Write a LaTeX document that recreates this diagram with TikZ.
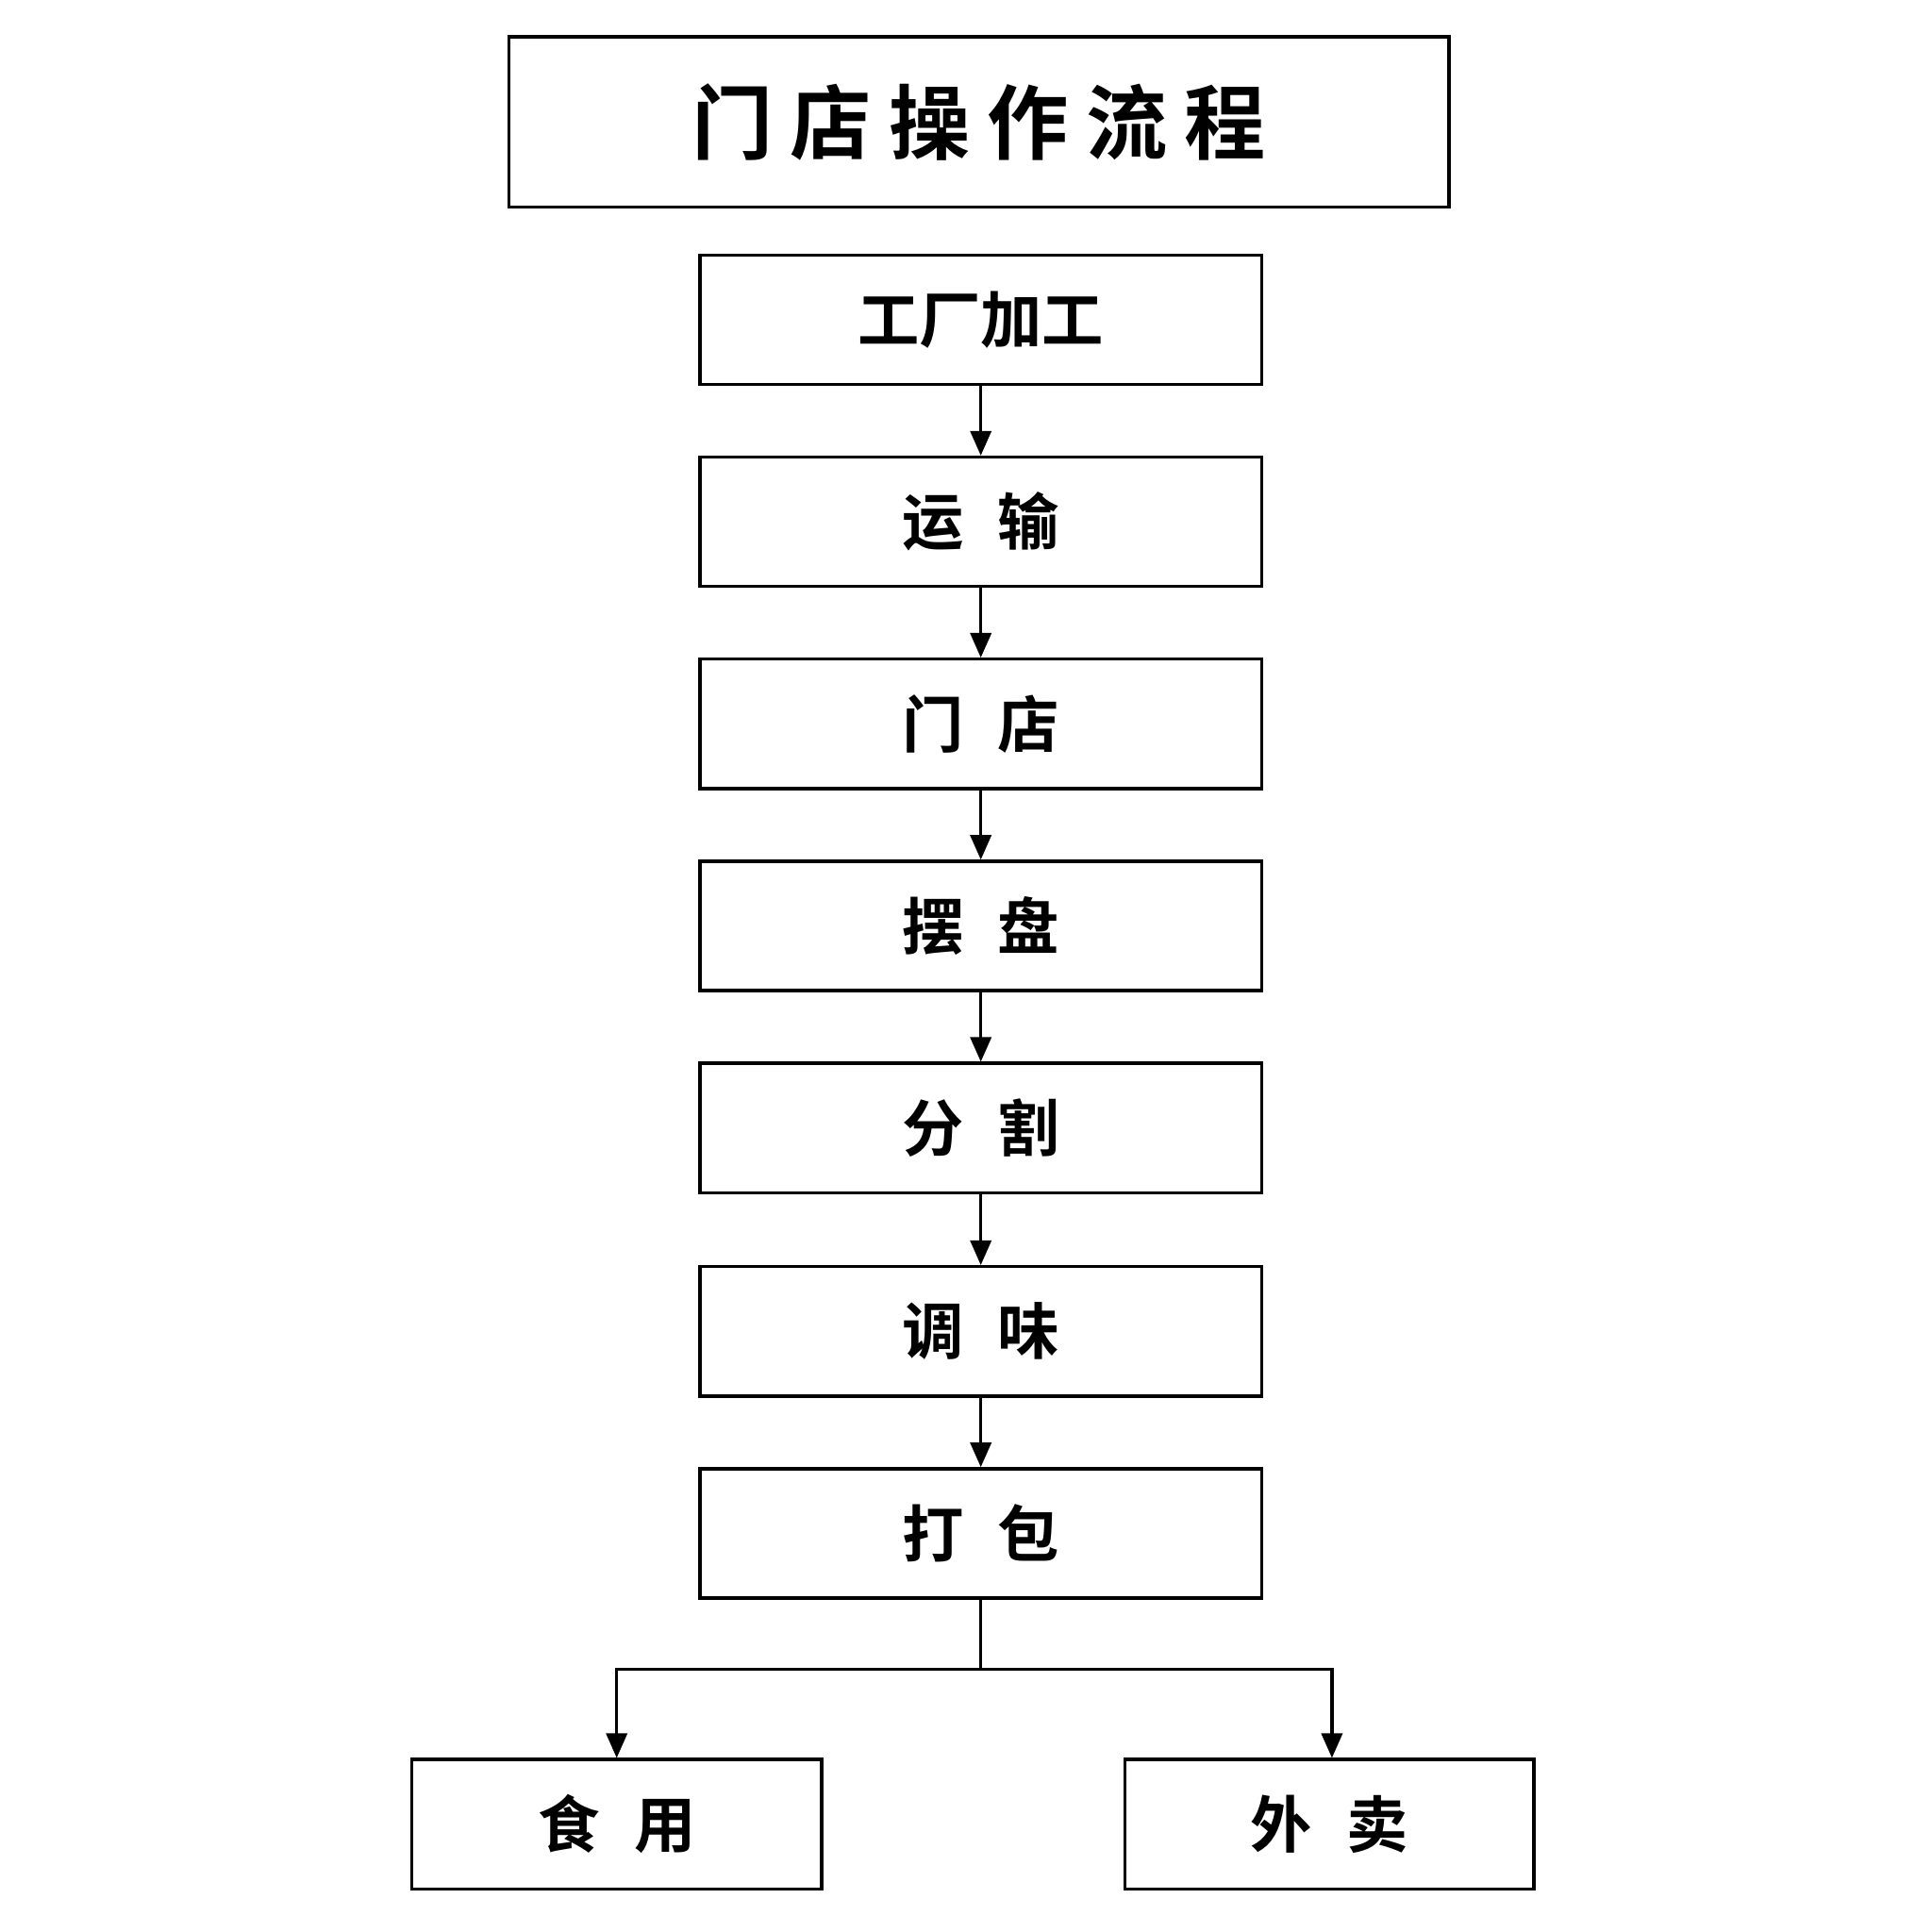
\documentclass[tikz,border=0pt]{standalone}
\usepackage{fontspec}
\newfontfamily\cjk{Noto Sans CJK SC}[BoldFont={Noto Sans CJK SC Bold}]
\usetikzlibrary{arrows.meta}
\begin{document}
\begin{tikzpicture}[x=1pt,y=-1pt,
  box/.style={draw,line width=2.6pt,inner sep=0pt,font=\cjk\bfseries\fontsize{50}{50}\selectfont},
  arr/.style={line width=2.4pt,-{Triangle[length=20pt,width=17pt]}}]
\useasboundingbox (0,0) rectangle (1568,1568);
\node[box,minimum width=763pt,minimum height=138pt,font=\cjk\bfseries\fontsize{66}{66}\selectfont] (t) at (794.5,99) {门\hspace{14pt}店\hspace{14pt}操\hspace{14pt}作\hspace{14pt}流\hspace{14pt}程};
\foreach \n/\y/\s in {a/259.5/工厂加工, b/423.5/运\hspace{28pt}输, c/587.5/门\hspace{28pt}店, d/751.5/摆\hspace{28pt}盘, e/915.5/分\hspace{28pt}割, f/1080.5/调\hspace{28pt}味, g/1244.5/打\hspace{28pt}包}
  \node[box,minimum width=456pt,minimum height=105pt] (\n) at (796,\y) {\s};
\node[box,minimum width=333pt,minimum height=105pt] (h) at (500.5,1480.5) {食\hspace{28pt}用};
\node[box,minimum width=332pt,minimum height=105pt] (i) at (1079,1480.5) {外\hspace{28pt}卖};
\foreach \p/\q in {a/b,b/c,c/d,d/e,e/f,f/g} \draw[arr] (\p) -- (\q);
\coordinate (m) at (796,1355);
\draw[line width=2.4pt] (g.south) -- (m);
\draw[arr] (m) -| (h.north);
\draw[arr] (m) -| ([xshift=2pt]i.north);
\end{tikzpicture}
\end{document}
